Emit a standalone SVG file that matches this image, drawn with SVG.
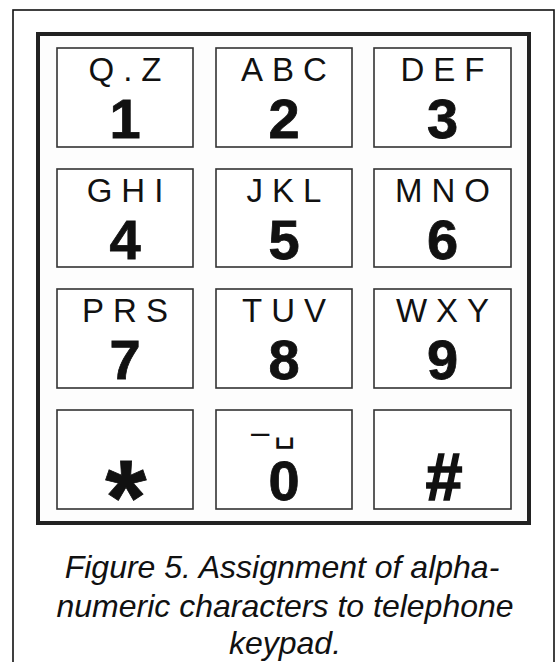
<svg xmlns="http://www.w3.org/2000/svg" width="557" height="662" viewBox="0 0 557 662">
<style>
.key{fill:#fff;stroke:#333;stroke-width:1.6}
.let{font-family:"Liberation Sans",Arial,sans-serif;font-size:33px;letter-spacing:9px;fill:#111;text-anchor:middle}
.dig{font-family:"Liberation Sans",Arial,sans-serif;font-size:56px;font-weight:bold;fill:#111;stroke:#111;stroke-width:0.8;text-anchor:middle}
.cap{font-family:"Liberation Sans",Arial,sans-serif;font-size:32px;font-style:italic;fill:#111;text-anchor:middle}
</style>
<rect width="557" height="662" fill="#fff"/>
<rect id="outer-frame" x="13" y="10" width="541" height="680" fill="none" stroke="#111" stroke-width="1.6"/>
<rect id="keypad-frame" x="38" y="34" width="491" height="489" fill="#fdfdfd" stroke="#222" stroke-width="4"/>
<g id="key-1"><rect class="key" x="57" y="48" width="136" height="99"/><text class="let" x="129.5" y="81">Q.Z</text><text class="dig" x="125" y="138">1</text></g>
<g id="key-2"><rect class="key" x="216" y="48" width="136" height="99"/><text class="let" x="288.5" y="81">ABC</text><text class="dig" x="284" y="138">2</text></g>
<g id="key-3"><rect class="key" x="374" y="48" width="137" height="99"/><text class="let" x="447" y="81">DEF</text><text class="dig" x="442.5" y="138">3</text></g>
<g id="key-4"><rect class="key" x="57" y="169" width="136" height="98"/><text class="let" x="129.5" y="202">GHI</text><text class="dig" x="125" y="259">4</text></g>
<g id="key-5"><rect class="key" x="216" y="169" width="136" height="98"/><text class="let" x="288.5" y="202">JKL</text><text class="dig" x="284" y="259">5</text></g>
<g id="key-6"><rect class="key" x="374" y="169" width="137" height="98"/><text class="let" x="447" y="202">MNO</text><text class="dig" x="442.5" y="259">6</text></g>
<g id="key-7"><rect class="key" x="57" y="289" width="136" height="99"/><text class="let" x="129.5" y="322">PRS</text><text class="dig" x="125" y="379">7</text></g>
<g id="key-8"><rect class="key" x="216" y="289" width="136" height="99"/><text class="let" x="288.5" y="322">TUV</text><text class="dig" x="284" y="379">8</text></g>
<g id="key-9"><rect class="key" x="374" y="289" width="137" height="99"/><text class="let" x="447" y="322">WXY</text><text class="dig" x="442.5" y="379">9</text></g>
<g id="key-star"><rect class="key" x="57" y="410" width="136" height="99"/><text class="dig" x="126" y="534" style="font-size:106px">*</text></g>
<g id="key-0"><rect class="key" x="216" y="410" width="136" height="99"/><text x="251" y="443" style="font-family:'Liberation Sans',Arial,sans-serif;font-size:33px;fill:#111">–</text><text x="274" y="441" style="font-family:'DejaVu Sans',sans-serif;font-size:34px;fill:#111">␣</text><text class="dig" x="284" y="500">0</text></g>
<g id="key-hash"><rect class="key" x="374" y="410" width="137" height="99"/><text class="dig" x="443" y="500" style="font-size:66px;font-style:italic;stroke-width:1.6">#</text></g>
<g id="caption">
<text class="cap" x="282" y="578">Figure 5. Assignment of alpha-</text>
<text class="cap" x="285" y="617">numeric characters to telephone</text>
<text class="cap" x="285" y="654">keypad.</text>
</g>
</svg>
